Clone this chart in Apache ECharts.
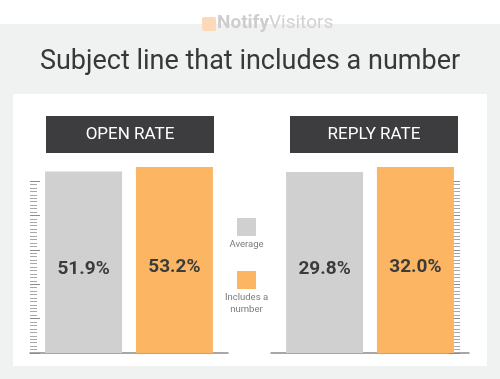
<!DOCTYPE html>
<html>
<head>
<meta charset="utf-8">
<script src="https://cdn.jsdelivr.net/npm/echarts@6/dist/echarts.min.js"></script>
<style>
html,body{margin:0;padding:0;background:#fff;}
#chart{width:500px;height:379px;}
</style>
</head>
<body>
<div id="chart"></div>
<script>
// ---- data ----
const titleText = 'Subject line that includes a number';
const panelNames = ['OPEN RATE', 'REPLY RATE'];
const seriesNames = ['Average', 'Includes a number'];
const averageValues = [51.9, 29.8];
const numberValues = [53.2, 32.0];
const legendLabels = ['Average', 'Includes a\nnumber'];
const brandParts = ['Notify', 'Visitors'];

// ---- styles ----
const grayBar = '#d0d0d0';
const orangeBar = '#fbb563';
const headerColor = '#3d3d3f';
const font = 'Roboto, "Noto Sans", sans-serif';

const chart = echarts.init(document.getElementById('chart'), null, {renderer: 'canvas'});

// panel geometry
const barGrids = [
  {left: 30, width: 198, top: 167, height: 186},
  {left: 271, width: 198, top: 167, height: 186}
];
const rulerGrids = [
  {left: 30, width: 10, top: 181, height: 172},
  {left: 460, width: 10, top: 181, height: 172}
];
const headerBoxes = [
  {x: 46, y: 116, w: 168, h: 37},
  {x: 290, y: 116, w: 168, h: 37}
];
// value-axis ranges per panel (axes hidden)
const valueMin = [0, -50];

const grids = [], xAxes = [], yAxes = [], series = [];
barGrids.forEach((g, i) => {
  grids.push(Object.assign({containLabel: false}, g));
  xAxes.push({
    type: 'category', gridIndex: i, data: [panelNames[i]],
    axisLine: {show: true, onZero: false, lineStyle: {color: '#8a8a8a', width: 1.5}},
    axisTick: {show: false}, axisLabel: {show: false}
  });
  yAxes.push({
    type: 'value', gridIndex: i, min: valueMin[i], max: 'dataMax', startValue: valueMin[i],
    axisLine: {show: false}, axisTick: {show: false}, axisLabel: {show: false},
    splitLine: {show: false}
  });
  const labelStyle = {
    show: true, position: 'inside', offset: [0, 7],
    color: '#3b3b3b', fontFamily: font, fontWeight: 'bold', fontSize: 19,
    formatter: p => p.value.toFixed(1) + '%'
  };
  series.push({
    name: seriesNames[0], type: 'bar', xAxisIndex: i, yAxisIndex: i,
    data: [averageValues[i]], barWidth: 77, barGap: '18%',
    itemStyle: {color: grayBar}, label: labelStyle, silent: true
  });
  series.push({
    name: seriesNames[1], type: 'bar', xAxisIndex: i, yAxisIndex: i,
    data: [numberValues[i]], barWidth: 77, barGap: '18%',
    itemStyle: {color: orangeBar}, label: labelStyle, silent: true
  });
});

// decorative rulers
rulerGrids.forEach((g, i) => {
  const gi = grids.length;
  grids.push(Object.assign({containLabel: false}, g));
  xAxes.push({type: 'value', gridIndex: gi, show: false});
  yAxes.push({
    type: 'value', gridIndex: gi, min: 0, max: 50, interval: 10,
    position: i === 0 ? 'right' : 'left',
    axisLine: {show: false},
    axisTick: {show: true, inside: false, length: i === 0 ? 10 : 11,
      lineStyle: {color: '#8c8c8c', width: 1}},
    minorTick: {show: true, splitNumber: 10, length: i === 0 ? 7 : 8,
      lineStyle: {color: '#a8a8a8', width: 1}},
    axisLabel: {show: false}, splitLine: {show: false}, minorSplitLine: {show: false}
  });
});

const graphics = [
  {type: 'rect', left: 0, top: 24, shape: {width: 500, height: 355}, style: {fill: '#f0f1f1'}, z: -10},
  {type: 'rect', left: 13, top: 94, shape: {width: 474, height: 272}, style: {fill: '#ffffff'}, z: -9},
  // brand watermark
  {type: 'rect', left: 202, top: 17, shape: {width: 14, height: 14, r: 2}, style: {fill: '#fbd9b9'}, z: 5},
  {type: 'text', left: 217, top: 14, z: 5, style: {
    text: '{a|' + brandParts[0] + '}{b|' + brandParts[1] + '}',
    rich: {
      a: {fontFamily: font, fontWeight: 'bold', fontSize: 19, fill: '#cdcdcd'},
      b: {fontFamily: font, fontSize: 19, fill: '#d2d2d2'}
    }
  }},
  {type: 'text', x: 250, y: 62, z: 5, style: {
    text: titleText, fontFamily: font, fontSize: 27, fill: '#383838',
    align: 'center', verticalAlign: 'middle'
  }}
];
headerBoxes.forEach((b, i) => {
  graphics.push({type: 'rect', left: b.x, top: b.y, shape: {width: b.w, height: b.h}, style: {fill: headerColor}, z: 5});
  graphics.push({type: 'text', x: b.x + b.w / 2, y: b.y + b.h / 2, z: 6, style: {
    text: panelNames[i], fontFamily: font, fontSize: 17, fill: '#ffffff',
    align: 'center', verticalAlign: 'middle'
  }});
});
// legend
const legendColors = [grayBar, orangeBar];
const legendTops = [218, 271];
legendLabels.forEach((t, i) => {
  graphics.push({type: 'rect', left: 237, top: legendTops[i], shape: {width: 19, height: 18}, style: {fill: legendColors[i]}, z: 5});
  graphics.push({type: 'text', x: 246.5, y: legendTops[i] + 21, z: 5, style: {
    text: t, fontFamily: font, fontSize: 9.5, fill: '#7a7a7a', lineHeight: 12,
    align: 'center', verticalAlign: 'top'
  }});
});

chart.setOption({
  backgroundColor: '#ffffff',
  animation: false,
  grid: grids,
  xAxis: xAxes,
  yAxis: yAxes,
  series: series,
  graphic: graphics
});
</script>
</body>
</html>
